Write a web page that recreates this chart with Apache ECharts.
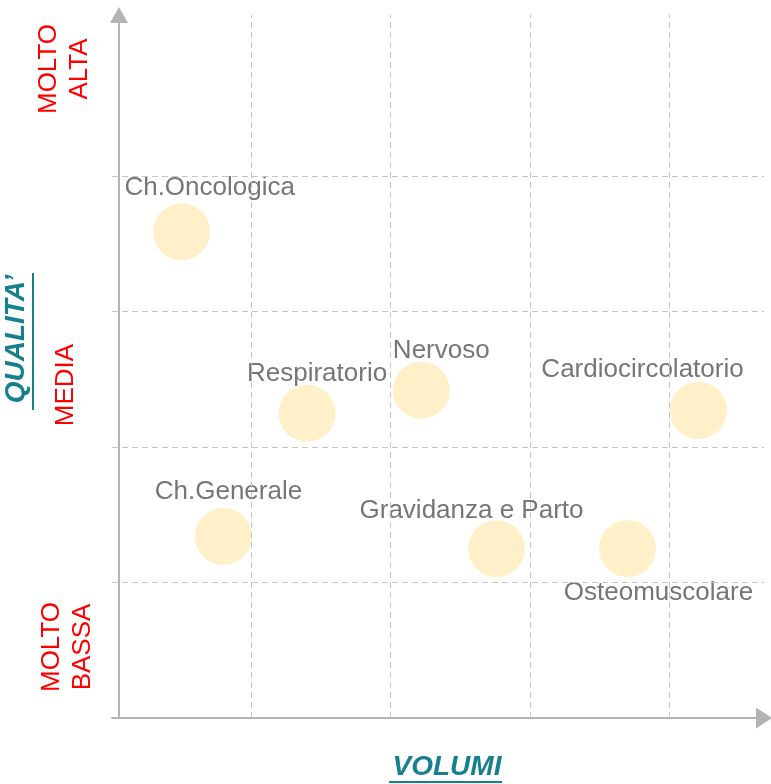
<!DOCTYPE html>
<html>
<head>
<meta charset="utf-8">
<script src="https://cdn.jsdelivr.net/npm/echarts@6/dist/echarts.min.js"></script>
<style>
  html, body { margin: 0; padding: 0; background: #fff; }
  #chart { width: 771px; height: 784px; }
</style>
</head>
<body>
<div id="chart"></div>
<script>
// categories and their positions on the two axes (grid units)
const reparti = ['Ch.Oncologica', 'Respiratorio', 'Nervoso', 'Cardiocircolatorio', 'Ch.Generale', 'Gravidanza e Parto', 'Osteomuscolare'];
const volumi = [0.50, 1.40, 2.22, 4.21, 0.80, 2.76, 3.70];
const qualita = [3.59, 2.25, 2.42, 2.27, 1.34, 1.25, 1.25];

// dashed grid lines
const gridX = [1, 2, 3, 4];
const gridY = [1, 2, 3, 4];

// label placement per bubble (style only)
const labelShift = {
  'Ch.Oncologica': [28, -44],
  'Respiratorio': [10, -39],
  'Nervoso': [20, -39],
  'Cardiocircolatorio': [-56, -41],
  'Ch.Generale': [5, -45],
  'Gravidanza e Parto': [-25, -38],
  'Osteomuscolare': [31, 44]
};

const font = 'Liberation Sans, Arial, sans-serif';
const axisColor = '#B4B4B4';
const teal = '#17808F';
const red = '#FF0000';

const chart = echarts.init(document.getElementById('chart'));

const option = {
  animation: false,
  grid: { left: 112, right: 7, top: 15, bottom: 66 },
  xAxis: {
    type: 'value', min: 0, max: 4.68,
    axisLine: {
      onZero: false,
      symbol: ['none', 'triangle'],
      symbolSize: [21, 16],
      lineStyle: { color: axisColor, width: 2 }
    },
    axisTick: { show: false },
    axisLabel: { show: false },
    splitLine: { show: false }
  },
  yAxis: {
    type: 'value', min: 0, max: 5.19,
    offset: -7,
    axisLine: {
      show: true,
      onZero: false,
      symbol: ['none', 'triangle'],
      symbolSize: [18, 16],
      lineStyle: { color: axisColor, width: 2 }
    },
    axisTick: { show: false },
    axisLabel: { show: false },
    splitLine: { show: false }
  },
  series: [
    {
      type: 'line',
      data: [],
      silent: true,
      markLine: {
        silent: true,
        symbol: 'none',
        label: { show: false },
        lineStyle: { type: [6, 4], color: '#C4C4C4', width: 1 },
        data: gridX.map(v => ({ xAxis: v })).concat(gridY.map(v => ({ yAxis: v })))
      }
    },
    {
      type: 'scatter',
      symbolSize: 57,
      itemStyle: { color: '#FFF0C9', opacity: 1 },
      label: {
        show: true,
        position: 'inside',
        formatter: '{b}',
        color: '#767676',
        fontFamily: font,
        fontSize: 26
      },
      data: reparti.map((name, i) => ({
        name: name,
        value: [volumi[i], qualita[i]],
        label: { offset: labelShift[name] }
      }))
    }
  ],
  graphic: [
    {
      type: 'text', x: 64, y: 69, rotation: Math.PI / 2,
      style: { text: 'MOLTO\nALTA', fill: red, font: '26px ' + font, align: 'center', verticalAlign: 'middle', lineHeight: 31 }
    },
    {
      type: 'text', x: 66, y: 385, rotation: Math.PI / 2,
      style: { text: 'MEDIA', fill: red, font: '26px ' + font, align: 'center', verticalAlign: 'middle' }
    },
    {
      type: 'text', x: 67, y: 647, rotation: Math.PI / 2,
      style: { text: 'MOLTO\nBASSA', fill: red, font: '26px ' + font, align: 'center', verticalAlign: 'middle', lineHeight: 31 }
    },
    {
      type: 'text', x: 16, y: 339, rotation: Math.PI / 2,
      style: { text: 'QUALITA’', fill: teal, font: 'italic bold 28px ' + font, align: 'center', verticalAlign: 'middle' }
    },
    {
      type: 'line', shape: { x1: 33, y1: 273, x2: 33, y2: 410 },
      style: { stroke: teal, lineWidth: 2 }
    },
    {
      type: 'text', x: 447, y: 767,
      style: { text: 'VOLUMI', fill: teal, font: 'italic bold 28px ' + font, align: 'center', verticalAlign: 'middle' }
    },
    {
      type: 'line', shape: { x1: 389, y1: 782, x2: 502, y2: 782 },
      style: { stroke: teal, lineWidth: 2 }
    }
  ]
};

chart.setOption(option);
</script>
</body>
</html>
